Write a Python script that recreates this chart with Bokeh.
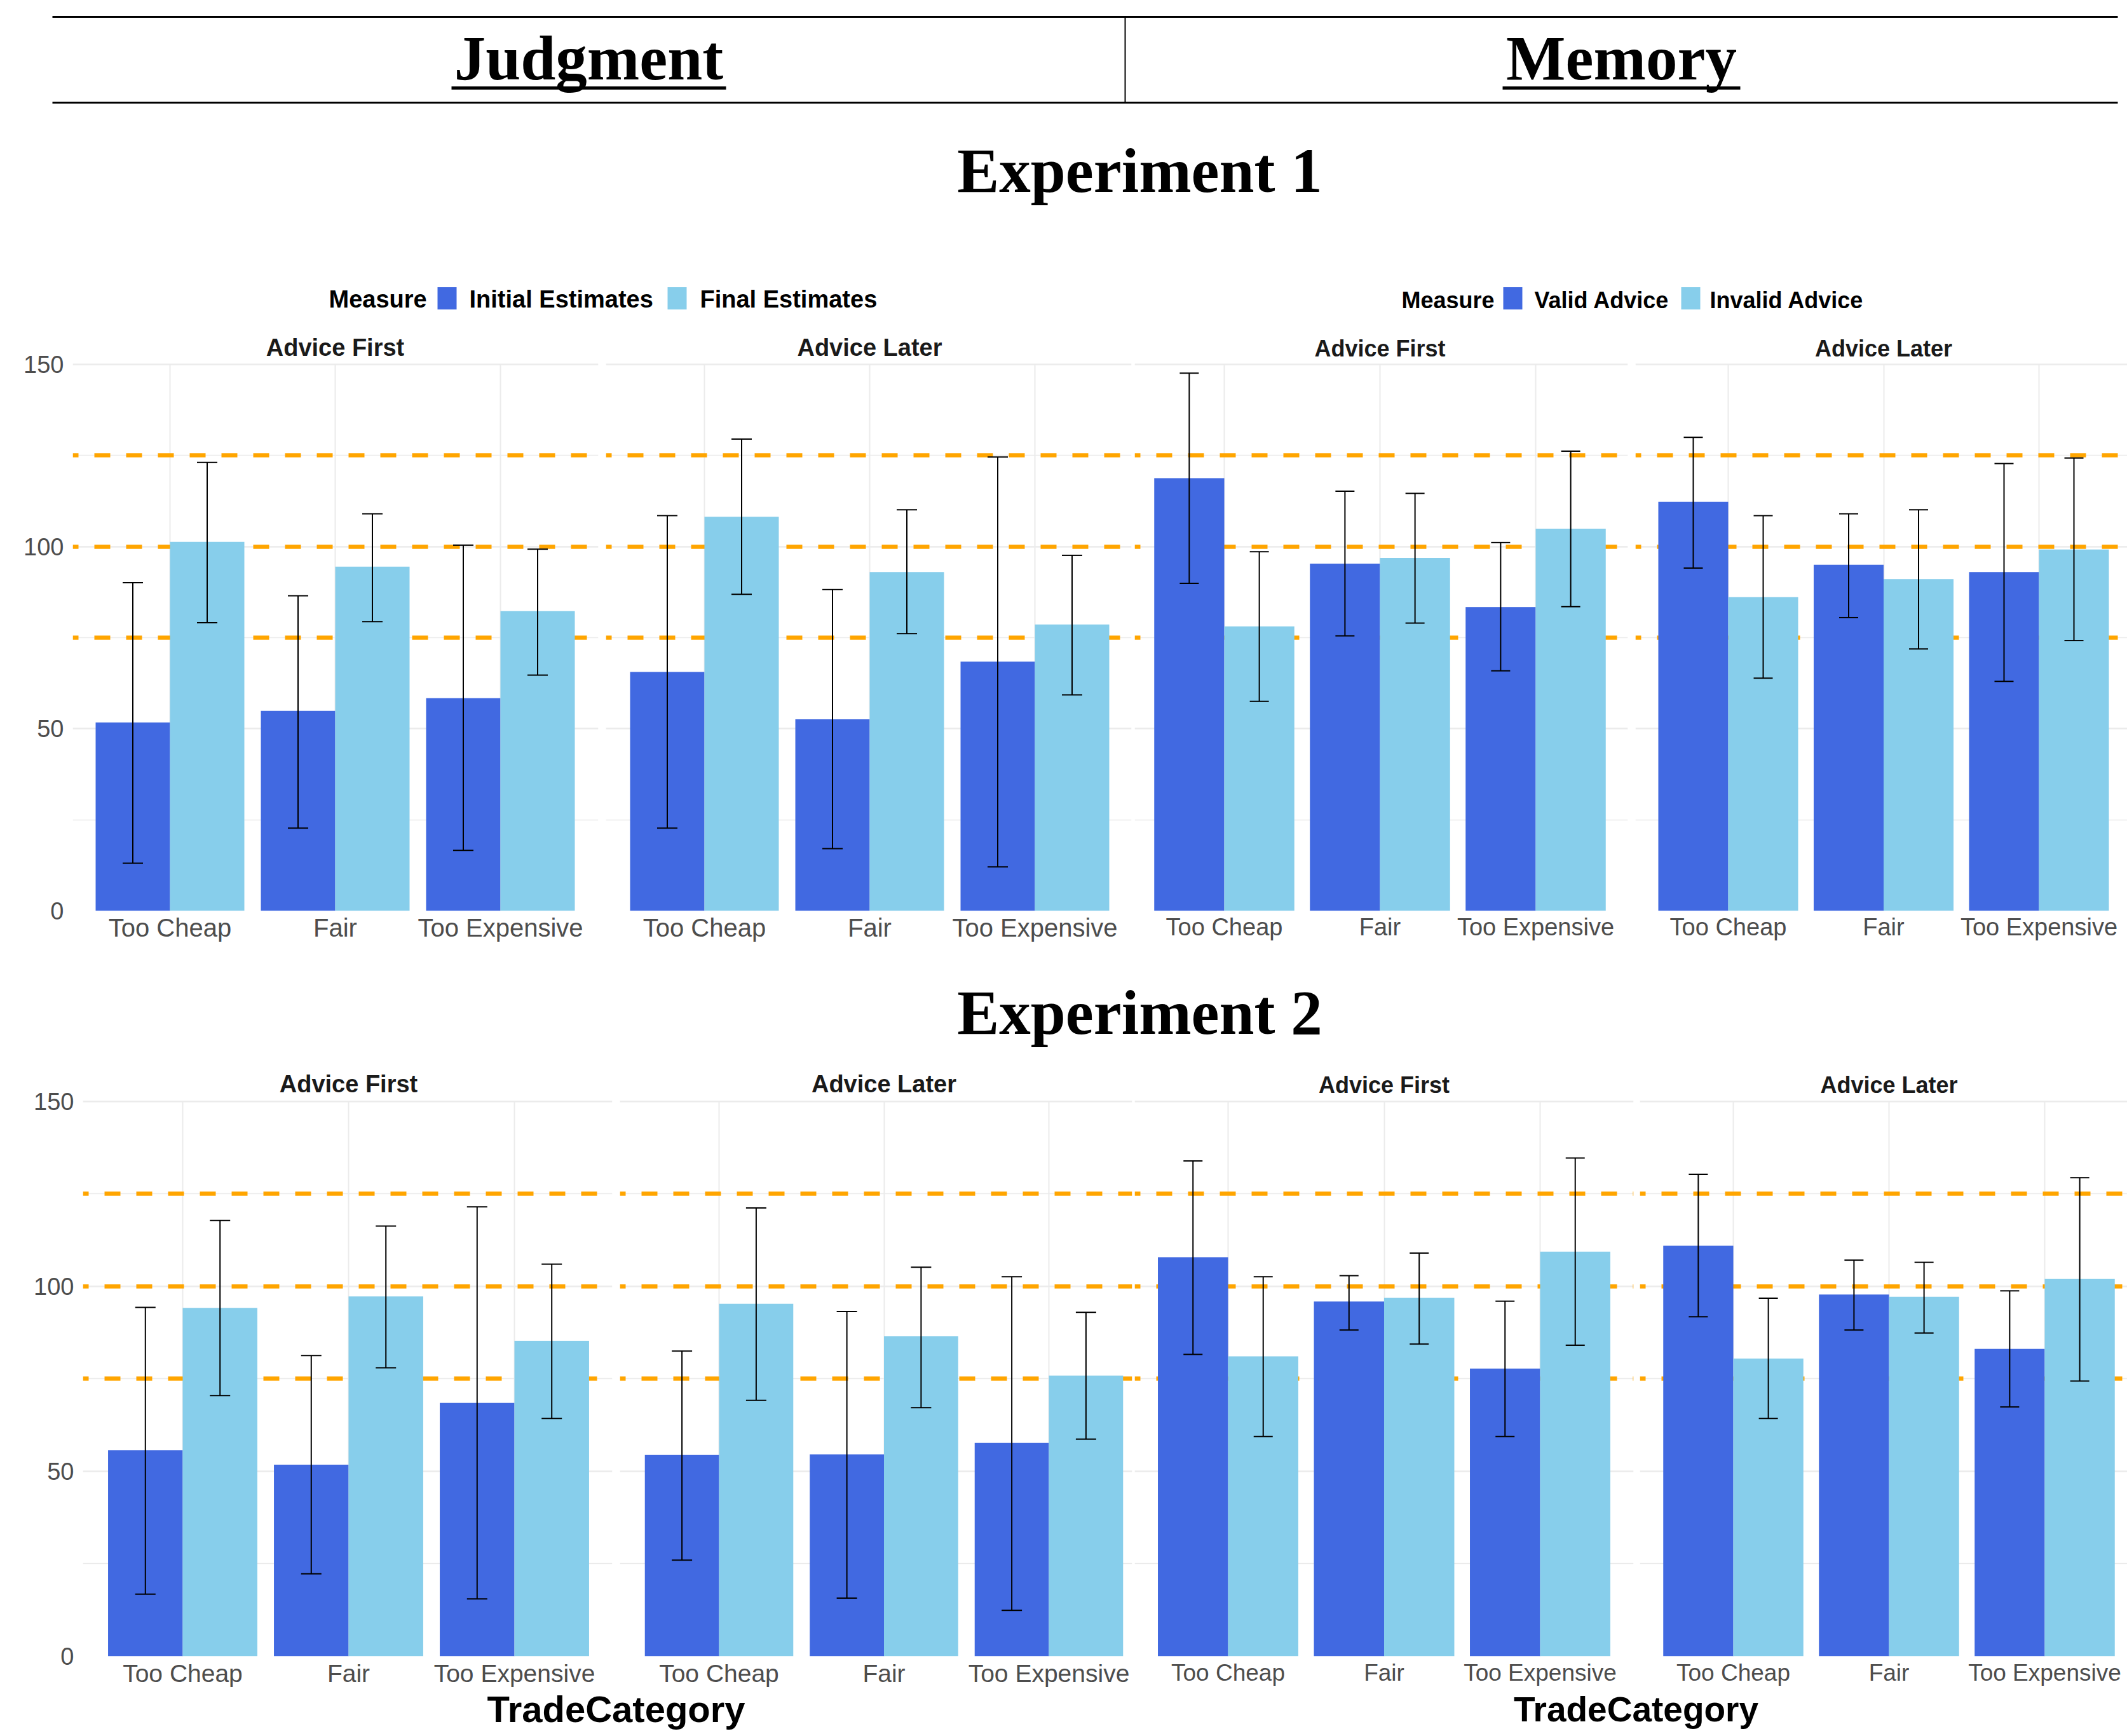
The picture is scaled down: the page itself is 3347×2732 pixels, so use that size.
from bokeh.plotting import figure
from bokeh.layouts import column, row
from bokeh.models import Range1d, FixedTicker, Whisker, TeeHead, ColumnDataSource
from bokeh.transform import dodge
from bokeh.core.properties import value
from bokeh.embed import file_html
from bokeh.resources import INLINE

# ---------------- data ----------------
categories = ["Too Cheap", "Fair", "Too Expensive"]
judgment_measures = ["Initial Estimates", "Final Estimates"]
memory_measures = ["Valid Advice", "Invalid Advice"]
conditions = ["Advice First", "Advice Later"]
ref_levels = [75, 100, 125]
y_ticks = [0, 50, 100, 150]
y_minor = [25, 75, 125]
Y_TOP = 150

# Experiment 1 - Judgment
e1_j_af_initial = [51.7, 54.9, 58.4]
e1_j_af_initial_lo = [13.1, 22.7, 16.6]
e1_j_af_initial_hi = [90.1, 86.5, 100.4]
e1_j_af_final = [101.3, 94.5, 82.3]
e1_j_af_final_lo = [79.1, 79.4, 64.7]
e1_j_af_final_hi = [123.1, 109.0, 99.3]
e1_j_al_initial = [65.6, 52.6, 68.4]
e1_j_al_initial_lo = [22.7, 17.1, 12.1]
e1_j_al_initial_hi = [108.5, 88.2, 124.6]
e1_j_al_final = [108.2, 93.0, 78.6]
e1_j_al_final_lo = [86.9, 76.1, 59.3]
e1_j_al_final_hi = [129.5, 110.1, 97.6]
# Experiment 1 - Memory
e1_m_af_valid = [118.8, 95.3, 83.4]
e1_m_af_valid_lo = [89.9, 75.5, 65.9]
e1_m_af_valid_hi = [147.6, 115.2, 101.1]
e1_m_af_invalid = [78.1, 96.9, 104.9]
e1_m_af_invalid_lo = [57.5, 79.0, 83.5]
e1_m_af_invalid_hi = [98.6, 114.6, 126.2]
e1_m_al_valid = [112.3, 95.0, 93.0]
e1_m_al_valid_lo = [94.1, 80.5, 63.0]
e1_m_al_valid_hi = [130.0, 109.0, 122.8]
e1_m_al_invalid = [86.1, 91.1, 99.2]
e1_m_al_invalid_lo = [63.9, 71.9, 74.2]
e1_m_al_invalid_hi = [108.5, 110.1, 124.3]
# Experiment 2 - Judgment
e2_j_af_initial = [55.7, 51.8, 68.5]
e2_j_af_initial_lo = [16.8, 22.3, 15.5]
e2_j_af_initial_hi = [94.3, 81.3, 121.5]
e2_j_af_final = [94.2, 97.3, 85.3]
e2_j_af_final_lo = [70.5, 78.0, 64.3]
e2_j_af_final_hi = [117.8, 116.3, 106.0]
e2_j_al_initial = [54.4, 54.6, 57.7]
e2_j_al_initial_lo = [26.0, 15.7, 12.4]
e2_j_al_initial_hi = [82.5, 93.2, 102.6]
e2_j_al_final = [95.3, 86.5, 75.9]
e2_j_al_final_lo = [69.2, 67.2, 58.7]
e2_j_al_final_hi = [121.2, 105.2, 93.0]
# Experiment 2 - Memory
e2_m_af_valid = [107.9, 95.9, 77.8]
e2_m_af_valid_lo = [81.6, 88.2, 59.4]
e2_m_af_valid_hi = [133.9, 102.9, 96.0]
e2_m_af_invalid = [81.1, 96.9, 109.4]
e2_m_af_invalid_lo = [59.4, 84.4, 84.1]
e2_m_af_invalid_hi = [102.6, 109.0, 134.7]
e2_m_al_valid = [111.0, 97.8, 83.1]
e2_m_al_valid_lo = [91.8, 88.2, 67.4]
e2_m_al_valid_hi = [130.3, 107.1, 98.8]
e2_m_al_invalid = [80.5, 97.2, 102.0]
e2_m_al_invalid_lo = [64.3, 87.4, 74.4]
e2_m_al_invalid_hi = [96.8, 106.5, 129.4]

# ---------------- styles ----------------
DARK = "#4169E1"
LIGHT = "#87CEEB"
ORANGE = "#FFA500"
GRID = "#EBEBEB"
SANS = "Liberation Sans"
SERIF = "Liberation Serif"
W = 3347
K_BASE = 0.37  # compensation between requested and drawn text baseline

# row layout in page pixels; panels: (frame_left, frame_right, px of category 1, px per category)
ROW1 = dict(fig_top=516, px150=573, px0=1433, fig_bottom=1498, strip_base=561,
            tick_px=[40, 40, 38, 38], standoff=4,
            edges=[0, 947, 1783, 2567, W],
            panels=[(114, 941, 267, 260), (953, 1780, 1108, 260),
                    (1785, 2561, 1926, 245), (2573, W, 2719, 244.5)])
ROW2 = dict(fig_top=1676, px150=1733, px0=2608, fig_bottom=2657, strip_base=1720,
            tick_px=[39, 39, 37, 37], standoff=5,
            edges=[0, 969, 1783, 2575, W],
            panels=[(130, 963, 287, 261), (975, 1781, 1131, 259.5),
                    (1785, 2570, 1932, 245.5), (2580, W, 2727, 245)])
strip_conds = conditions + conditions
strip_px = [38, 38, 36, 36]


def pix_fig(width, height):
    p = figure(width=width, height=height, x_range=Range1d(0, width),
               y_range=Range1d(height, 0), output_backend="svg",
               toolbar_location=None, x_axis_location=None, y_axis_location=None,
               min_border=0)
    p.grid.visible = False
    p.outline_line_color = None
    return p


def add_text(p, x, y, t, size, font=SANS, style="bold", color="#000000", align="center"):
    yy = y - K_BASE * size
    p.text(x=[x], y=[yy], text=[t], text_font=value(font), text_font_style=style,
           text_font_size=f"{size}px", text_color=color, text_align=align,
           text_baseline="alphabetic")


def panel(i, rc, series, cond):
    L, R, c1, s = rc["panels"][i]
    fl, fr = rc["edges"][i], rc["edges"][i + 1]
    show_y = i == 0
    cap = 32 if i < 2 else 30
    tick_px = rc["tick_px"][i]
    ppu = (rc["px0"] - rc["px150"]) / Y_TOP
    y_max = (rc["px0"] - rc["fig_top"]) / ppu
    xs = list(range(1, len(categories) + 1))
    p = figure(width=fr - fl, height=rc["fig_bottom"] - rc["fig_top"],
               x_range=Range1d(1 + (L - c1) / s, 1 + (R - c1) / s),
               y_range=Range1d(0, y_max), output_backend="svg", toolbar_location=None,
               y_axis_location="left" if show_y else None,
               min_border_left=L - fl, min_border_right=fr - R,
               min_border_top=0, min_border_bottom=rc["fig_bottom"] - rc["px0"])
    p.outline_line_color = None
    # x axis
    p.xaxis.ticker = FixedTicker(ticks=xs)
    p.xaxis.major_label_overrides = {x: c for x, c in zip(xs, categories)}
    p.xaxis.axis_line_color = None
    p.xaxis.major_tick_line_color = None
    p.xaxis.minor_tick_line_color = None
    p.xaxis.major_tick_out = 0
    p.xaxis.major_label_standoff = rc["standoff"]
    p.xaxis.major_label_text_font = SANS
    p.xaxis.major_label_text_font_size = f"{tick_px}px"
    p.xaxis.major_label_text_color = "#4D4D4D"
    # y axis / grid
    yt = FixedTicker(ticks=y_ticks, minor_ticks=y_minor)
    if show_y:
        p.yaxis.ticker = yt
        p.yaxis.axis_line_color = None
        p.yaxis.major_tick_line_color = None
        p.yaxis.minor_tick_line_color = None
        p.yaxis.major_tick_out = 0
        p.yaxis.major_label_standoff = 10
        p.yaxis.major_label_text_font = SANS
        p.yaxis.major_label_text_font_size = "38px"
        p.yaxis.major_label_text_color = "#4D4D4D"
    else:
        for g in p.ygrid:
            g.axis.ticker = yt
    p.ygrid.grid_line_color = GRID
    p.ygrid.grid_line_width = 2.5
    p.ygrid.minor_grid_line_color = GRID
    p.ygrid.minor_grid_line_width = 1.5
    p.xgrid.grid_line_color = GRID
    p.xgrid.grid_line_width = 2
    try:
        p.xgrid.cross_bounds = (0, Y_TOP)
    except Exception:
        p.xgrid.visible = False
        p.segment(x0=xs, y0=[0] * len(xs), x1=xs, y1=[Y_TOP] * len(xs),
                  line_color=GRID, line_width=2, level="underlay")

    d, dlo, dhi, l, llo, lhi = series
    src = ColumnDataSource(dict(x=xs, d=d, dlo=dlo, dhi=dhi, l=l, llo=llo, lhi=lhi))
    p.hspan(y=ref_levels, line_color=ORANGE, line_width=6.5, line_dash="25 25",
            line_dash_offset=16)
    p.vbar(x=dodge("x", -0.225), top="d", width=0.45, source=src,
           fill_color=DARK, line_color=None)
    p.vbar(x=dodge("x", 0.225), top="l", width=0.45, source=src,
           fill_color=LIGHT, line_color=None)
    for off, lo, hi in ((-0.225, "dlo", "dhi"), (0.225, "llo", "lhi")):
        p.add_layout(Whisker(source=src, base=dodge("x", off), lower=lo, upper=hi,
                             line_color="black", line_width=2, level="annotation",
                             upper_head=TeeHead(size=cap, line_color="black", line_width=2),
                             lower_head=TeeHead(size=cap, line_color="black", line_width=2)))
    # facet strip title, centred on the middle category
    fs = strip_px[i]
    y_strip = (rc["px0"] - (rc["strip_base"] - K_BASE * fs)) / ppu
    p.text(x=[(xs[0] + xs[-1]) / 2], y=[y_strip], text=[cond], text_font=value(SANS),
           text_font_style="bold", text_font_size=f"{fs}px", text_color="#1A1A1A",
           text_align="center", text_baseline="alphabetic")
    return p


def build_row(rc, all_series):
    return row(*[panel(i, rc, ser, cond)
                 for i, (ser, cond) in enumerate(zip(all_series, strip_conds))], spacing=0)


# ---------------- header / titles / legends ----------------
top = pix_fig(W, ROW1["fig_top"])
top.segment(x0=[82, 82], y0=[26, 161], x1=[3332, 3332], y1=[26, 161],
            line_color="black", line_width=3)
top.segment(x0=[1770], y0=[26], x1=[1770], y1=[161], line_color="black", line_width=2)
add_text(top, 926, 128, "Judgment", 99, font=SERIF)
add_text(top, 2551, 128, "Memory", 99, font=SERIF)
top.segment(x0=[710, 2364], y0=[138, 138], x1=[1142, 2738], y1=[138, 138],
            line_color="black", line_width=5)
add_text(top, 1793, 305, "Experiment 1", 99, font=SERIF)

# legends (judgment legend, memory legend)
for mx, sw, lx, labels, fs in ((517, [688, 1050], [738, 1101], judgment_measures, 38),
                              (2205, [2365, 2645], [2414, 2690], memory_measures, 36)):
    add_text(top, mx, 485, "Measure", fs, align="left")
    for sx, tx, lab, col in zip(sw, lx, labels, [DARK, LIGHT]):
        top.rect(x=[sx + 15], y=[469], width=30, height=35, fill_color=col, line_color=None)
        add_text(top, tx, 485, lab, fs, align="left")

row1 = build_row(ROW1, [
    (e1_j_af_initial, e1_j_af_initial_lo, e1_j_af_initial_hi, e1_j_af_final, e1_j_af_final_lo, e1_j_af_final_hi),
    (e1_j_al_initial, e1_j_al_initial_lo, e1_j_al_initial_hi, e1_j_al_final, e1_j_al_final_lo, e1_j_al_final_hi),
    (e1_m_af_valid, e1_m_af_valid_lo, e1_m_af_valid_hi, e1_m_af_invalid, e1_m_af_invalid_lo, e1_m_af_invalid_hi),
    (e1_m_al_valid, e1_m_al_valid_lo, e1_m_al_valid_hi, e1_m_al_invalid, e1_m_al_invalid_lo, e1_m_al_invalid_hi),
])

MID_TOP = ROW1["fig_bottom"]
mid = pix_fig(W, ROW2["fig_top"] - MID_TOP)
add_text(mid, 1793, 1630 - MID_TOP, "Experiment 2", 99, font=SERIF)

row2 = build_row(ROW2, [
    (e2_j_af_initial, e2_j_af_initial_lo, e2_j_af_initial_hi, e2_j_af_final, e2_j_af_final_lo, e2_j_af_final_hi),
    (e2_j_al_initial, e2_j_al_initial_lo, e2_j_al_initial_hi, e2_j_al_final, e2_j_al_final_lo, e2_j_al_final_hi),
    (e2_m_af_valid, e2_m_af_valid_lo, e2_m_af_valid_hi, e2_m_af_invalid, e2_m_af_invalid_lo, e2_m_af_invalid_hi),
    (e2_m_al_valid, e2_m_al_valid_lo, e2_m_al_valid_hi, e2_m_al_invalid, e2_m_al_invalid_lo, e2_m_al_invalid_hi),
])

BOT_TOP = ROW2["fig_bottom"]
bot = pix_fig(W, 2732 - BOT_TOP)
add_text(bot, 969, 2710 - BOT_TOP, "TradeCategory", 58)
add_text(bot, 2574, 2710 - BOT_TOP, "TradeCategory", 55)

layout = column(top, row1, mid, row2, bot, spacing=0)
open("out.html", "w").write(file_html(layout, INLINE))
